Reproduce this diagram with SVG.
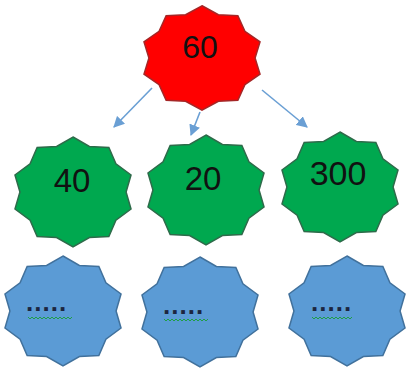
<svg xmlns="http://www.w3.org/2000/svg" xmlns:xlink="http://www.w3.org/1999/xlink" width="406" height="371" viewBox="0 0 406 371">
<defs>
<style>
.star{stroke-width:1.5;stroke-linejoin:miter}
.red{fill:#FF0000;stroke:#A52626}
.green{fill:#00A84F;stroke:#2E6B4A}
.blue{fill:#5B9BD5;stroke:#41719C}
.num{font-family:"Liberation Sans",Arial,sans-serif;fill:#111;text-anchor:middle}
.dots{font-family:"Liberation Sans",Arial,sans-serif;font-weight:bold;font-size:26px;letter-spacing:1px;fill:#1C2640}
.sq{fill:none;stroke:#1E9E45;stroke-width:1}
.conn{stroke:#6A9FD4;stroke-width:1.6;fill:none}
</style>
<path id="star" vector-effect="non-scaling-stroke" d="M0,-55 L16.4,-45.51 L35.86,-44.5 L42.93,-28.13 L58.02,-17 L53.07,0 L58.02,17 L42.93,28.13 L35.86,44.5 L16.4,45.51 L0,55 L-16.4,45.51 L-35.86,44.5 L-42.93,28.13 L-58.02,17 L-53.07,0 L-58.02,-17 L-42.93,-28.13 L-35.86,-44.5 L-16.4,-45.51 Z"/>
<marker id="ah" viewBox="0 0 10 10" refX="9" refY="5" markerWidth="7" markerHeight="7" orient="auto" markerUnits="strokeWidth">
<path d="M0,0 L10,5 L0,10 Z" fill="#6A9FD4"/>
</marker>
</defs>
<rect width="406" height="371" fill="#FFFFFF"/>
<g id="connectors">
<line class="conn" x1="152" y1="88" x2="114" y2="127" marker-end="url(#ah)"/>
<line class="conn" x1="200" y1="112" x2="191" y2="135" marker-end="url(#ah)"/>
<line class="conn" x1="262" y1="90" x2="307" y2="127" marker-end="url(#ah)"/>
</g>
<g id="node-60">
<use xlink:href="#star" href="#star" class="star red" transform="translate(202,58) scale(1,0.95)"/>
<text class="num" x="200" y="58" font-size="32">60</text>
</g>
<g id="node-40">
<use xlink:href="#star" href="#star" class="star green" transform="translate(73,192)"/>
<text class="num" x="72" y="192" font-size="33">40</text>
</g>
<g id="node-20">
<use xlink:href="#star" href="#star" class="star green" transform="translate(206,190)"/>
<text class="num" x="203" y="190" font-size="33">20</text>
</g>
<g id="node-300">
<use xlink:href="#star" href="#star" class="star green" transform="translate(340,187)"/>
<text class="num" x="338" y="185" font-size="34">300</text>
</g>
<g id="node-b1">
<use xlink:href="#star" href="#star" class="star blue" transform="translate(63,311)"/>
<text class="dots" x="26" y="311">.....</text>
<path class="sq" d="M28,317 l2,2 l2,-2 l2,2 l2,-2 l2,2 l2,-2 l2,2 l2,-2 l2,2 l2,-2 l2,2 l2,-2 l2,2 l2,-2 l2,2 l2,-2 l2,2 l2,-2 l2,2 l2,-2 l2,2 l2,-2"/>
</g>
<g id="node-b2">
<use xlink:href="#star" href="#star" class="star blue" transform="translate(200,312)"/>
<text class="dots" x="163" y="314">.....</text>
<path class="sq" d="M164,319 l2,2 l2,-2 l2,2 l2,-2 l2,2 l2,-2 l2,2 l2,-2 l2,2 l2,-2 l2,2 l2,-2 l2,2 l2,-2 l2,2 l2,-2 l2,2 l2,-2 l2,2 l2,-2 l2,2 l2,-2"/>
</g>
<g id="node-b3">
<use xlink:href="#star" href="#star" class="star blue" transform="translate(347,311)"/>
<text class="dots" x="311" y="311">.....</text>
<path class="sq" d="M312,317 l2,2 l2,-2 l2,2 l2,-2 l2,2 l2,-2 l2,2 l2,-2 l2,2 l2,-2 l2,2 l2,-2 l2,2 l2,-2 l2,2 l2,-2 l2,2 l2,-2 l2,2 l2,-2"/>
</g>
</svg>
